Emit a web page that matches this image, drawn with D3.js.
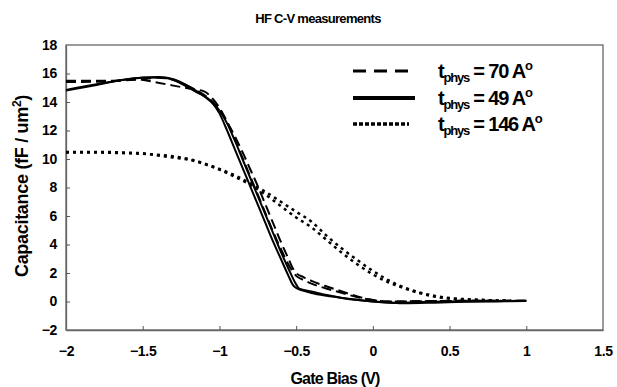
<!DOCTYPE html>
<html>
<head>
<meta charset="utf-8">
<script src="https://cdn.jsdelivr.net/npm/d3@7"></script>
<style>
  body { margin: 0; background: #fff; }
  svg { display: block; font-family: "Liberation Sans", Arial, sans-serif; font-weight: bold; }
</style>
</head>
<body>
<svg id="chart" width="617" height="387"></svg>
<script>
// tick labels
const xTicks = [-2, -1.5, -1, -0.5, 0, 0.5, 1, 1.5];
const yTicks = [-2, 0, 2, 4, 6, 8, 10, 12, 14, 16, 18];

// t_phys = 49 A (solid), two sweeps
const solidFwdV = [-2, -1.8, -1.6, -1.5, -1.4, -1.33, -1.25, -1.15, -1.05, -1.0, -0.95, -0.9, -0.85, -0.8, -0.75, -0.7, -0.65, -0.6, -0.55, -0.52, -0.5, -0.45, -0.4, -0.3, -0.2, -0.1, 0, 0.1, 0.15, 0.3, 0.5, 0.7, 1.0];
const solidFwdC = [14.8, 15.2, 15.6, 15.7, 15.72, 15.65, 15.3, 14.7, 14.0, 13.2, 12.0, 10.7, 9.4, 8.1, 6.8, 5.5, 4.2, 3.0, 1.8, 1.15, 0.95, 0.75, 0.6, 0.4, 0.25, 0.12, 0.0, -0.08, -0.1, -0.05, 0.0, 0.02, 0.05];
const solidRevV = [-2, -1.8, -1.6, -1.5, -1.4, -1.3, -1.2, -1.1, -1.0, -0.95, -0.9, -0.85, -0.8, -0.75, -0.7, -0.65, -0.6, -0.55, -0.5, -0.48, -0.4, -0.3, -0.2, -0.1, 0, 0.1, 0.2, 0.4, 0.6, 0.8, 1.0];
const solidRevC = [14.85, 15.25, 15.6, 15.72, 15.75, 15.6, 15.1, 14.4, 13.4, 12.5, 11.3, 10.0, 8.7, 7.4, 6.1, 4.8, 3.5, 2.3, 1.2, 0.9, 0.7, 0.45, 0.25, 0.1, 0.0, -0.05, -0.12, -0.08, -0.02, 0.0, 0.03];

// t_phys = 70 A (dashed), two sweeps
const dashFwdV = [-2, -1.7, -1.55, -1.4, -1.3, -1.2, -1.1, -1.05, -1.0, -0.95, -0.9, -0.85, -0.8, -0.75, -0.7, -0.65, -0.6, -0.55, -0.5, -0.45, -0.4, -0.3, -0.2, -0.1, 0, 0.1, 0.3, 0.6, 1.0];
const dashFwdC = [15.4, 15.45, 15.6, 15.35, 15.15, 14.95, 14.75, 14.3, 13.6, 12.6, 11.4, 10.1, 8.8, 7.5, 6.2, 4.9, 3.7, 2.6, 1.8, 1.5, 1.25, 0.9, 0.6, 0.3, 0.1, 0.0, 0.02, 0.05, 0.05];
const dashRevV = [-2, -1.7, -1.5, -1.4, -1.3, -1.2, -1.1, -1.0, -0.95, -0.9, -0.85, -0.8, -0.75, -0.7, -0.65, -0.6, -0.55, -0.52, -0.5, -0.45, -0.4, -0.3, -0.2, -0.1, 0, 0.1, 0.4, 0.7, 1.0];
const dashRevC = [15.5, 15.5, 15.6, 15.7, 15.55, 15.1, 14.5, 13.5, 12.6, 11.6, 10.5, 9.3, 8.1, 6.8, 5.5, 4.2, 3.0, 2.3, 2.0, 1.7, 1.45, 1.05, 0.7, 0.35, 0.1, 0.0, 0.03, 0.05, 0.05];

// t_phys = 146 A (dotted), two sweeps
const dotFwdV = [-2, -1.8, -1.6, -1.5, -1.4, -1.3, -1.2, -1.1, -1.0, -0.9, -0.8, -0.7, -0.6, -0.5, -0.4, -0.3, -0.2, -0.1, 0, 0.1, 0.2, 0.3, 0.4, 0.5, 0.7, 0.9];
const dotFwdC = [10.5, 10.5, 10.45, 10.4, 10.25, 10.1, 9.95, 9.65, 9.25, 8.75, 8.2, 7.5, 6.7, 5.9, 5.2, 4.3, 3.4, 2.6, 1.9, 1.35, 0.95, 0.6, 0.35, 0.2, 0.1, 0.05];
const dotRevV = [-2, -1.8, -1.6, -1.4, -1.2, -1.0, -0.9, -0.8, -0.7, -0.6, -0.5, -0.4, -0.3, -0.2, -0.1, 0, 0.1, 0.2, 0.3, 0.4, 0.5, 0.7, 0.9];
const dotRevC = [10.45, 10.45, 10.4, 10.3, 10.0, 9.3, 8.85, 8.3, 7.7, 7.0, 6.3, 5.6, 4.6, 3.7, 2.9, 2.15, 1.5, 1.0, 0.65, 0.4, 0.25, 0.12, 0.05];

const legendLabels = ["70", "49", "146"];

const svg = d3.select("#chart");
const x = d3.scaleLinear().domain([-2, 1.5]).range([66, 603]);
const y = d3.scaleLinear().domain([-2, 18]).range([330, 45]);

const styles = {
  solid: { dash: null, width: 2 },
  dash: { dash: "10,5", width: 2 },
  dot: { dash: "3,4", width: 2.5 }
};

// frame
svg.append("rect")
  .attr("x", 66).attr("y", 45)
  .attr("width", 603 - 66).attr("height", 330 - 45)
  .attr("fill", "none").attr("stroke", "#666").attr("stroke-width", 1.3);

const xAxis = svg.append("g")
  .attr("transform", "translate(0,330)")
  .call(d3.axisBottom(x).tickValues(xTicks).tickSizeInner(-4).tickSizeOuter(0).tickPadding(16).tickFormat(d3.format("")));
const yAxis = svg.append("g")
  .attr("transform", "translate(66,0)")
  .call(d3.axisLeft(y).tickValues(yTicks).tickSizeInner(-4).tickSizeOuter(0).tickPadding(9));

[xAxis, yAxis].forEach(a => {
  a.select(".domain").attr("stroke", "#666").attr("stroke-width", 1.3);
  a.selectAll(".tick line").attr("stroke", "#555");
  a.selectAll("text").attr("fill", "#000")
    .style("font-size", "14px").style("font-weight", "bold")
    .style("letter-spacing", "-0.3px")
    .style("font-family", "'Liberation Sans', Arial, sans-serif");
});
xAxis.selectAll(".tick").filter(d => d === 1.5).select("line").remove();
yAxis.selectAll(".tick").filter(d => d === 18 || d === -2).select("line").remove();

const line = d3.line()
  .x(d => x(d[0]))
  .y(d => y(d[1]))
  .curve(d3.curveMonotoneX);

const sweeps = [
  [dotFwdV, dotFwdC, "dot"],
  [dotRevV, dotRevC, "dot"],
  [dashFwdV, dashFwdC, "dash"],
  [dashRevV, dashRevC, "dash"],
  [solidFwdV, solidFwdC, "solid"],
  [solidRevV, solidRevC, "solid"]
];

sweeps.forEach(([vs, cs, kind]) => {
  svg.append("path")
    .datum(vs.map((v, i) => [v, cs[i]]))
    .attr("d", line)
    .attr("fill", "none")
    .attr("stroke", "#000")
    .attr("stroke-width", styles[kind].width)
    .attr("stroke-dasharray", styles[kind].dash);
});

// title and axis labels
svg.append("text")
  .attr("x", 318).attr("y", 23)
  .attr("text-anchor", "middle")
  .style("font-size", "13px")
  .style("letter-spacing", "-0.7px")
  .text("HF C-V measurements");

svg.append("text")
  .attr("x", 335).attr("y", 384)
  .attr("text-anchor", "middle")
  .style("font-size", "16px")
  .style("letter-spacing", "-0.8px")
  .text("Gate Bias (V)");

const yl = svg.append("text")
  .attr("transform", "translate(28,186) rotate(-90)")
  .attr("text-anchor", "middle")
  .style("font-size", "18px")
  .style("letter-spacing", "-0.3px");
yl.append("tspan").text("Capacitance (fF / um");
yl.append("tspan").attr("baseline-shift", "super").style("font-size", "12px").text("2");
yl.append("tspan").text(")");

// legend
const legendY = [71, 98, 124];
const legendStyle = [
  { dash: "13,8", width: 3 },
  { dash: null, width: 4 },
  { dash: "4,2", width: 3.5 }
];
const legendX2 = [410, 415, 409];

legendLabels.forEach((lab, i) => {
  svg.append("line")
    .attr("x1", 353).attr("x2", legendX2[i])
    .attr("y1", legendY[i]).attr("y2", legendY[i])
    .attr("stroke", "#000")
    .attr("stroke-width", legendStyle[i].width)
    .attr("stroke-dasharray", legendStyle[i].dash);

  const t = svg.append("text")
    .attr("x", 438).attr("y", legendY[i] + 7)
    .style("font-size", "20px")
    .style("letter-spacing", "-1.2px");
  t.append("tspan").text("t");
  t.append("tspan").attr("dy", 4).style("font-size", "13px").text("phys");
  t.append("tspan").attr("dy", -4).text(" = " + lab + " A");
  t.append("tspan").attr("dy", -8).style("font-size", "13px").text("o");
});
</script>
</body>
</html>
